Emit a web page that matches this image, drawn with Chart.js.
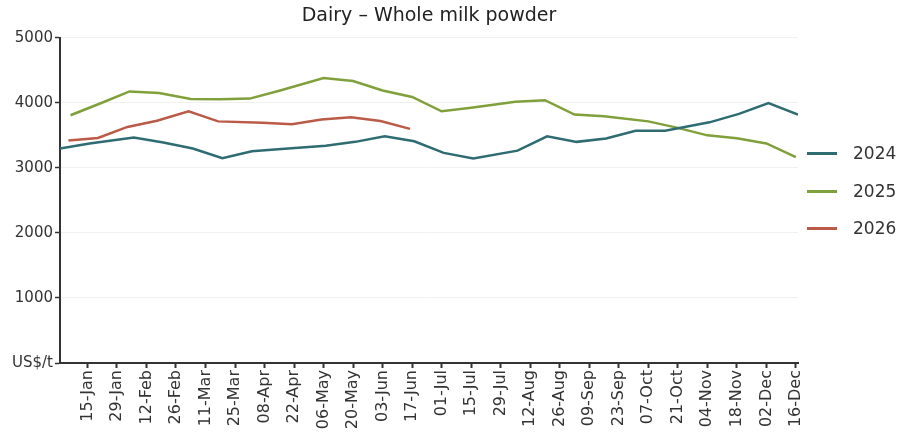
<!DOCTYPE html>
<html>
<head>
<meta charset="utf-8">
<script src="https://cdn.jsdelivr.net/npm/chart.js@4.4.1/dist/chart.umd.min.js"></script>
<style>
    body { margin: 0; background: #fff; }
    #wrap { position: relative; width: 899px; height: 435px; }
    #legend { position: absolute; left: 807px; top: 0; font-family: 'DejaVu Sans', sans-serif; font-size: 17px; color: #333; }
    .leg-item { position: absolute; left: 0; width: 92px; height: 20px; }
    .leg-line { position: absolute; left: 0; top: 9px; width: 30px; height: 3px; }
    .leg-text { position: absolute; left: 46px; top: 0; line-height: 20px; }
</style>
</head>
<body>
<div id="wrap">
    <canvas id="wmpChart"></canvas>
    <div id="legend"></div>
</div>
<script>
// x positions are day of year (common calendar), ticks every two weeks
const tickDays = [15, 29, 43, 57, 71, 85, 99, 113, 127, 141, 155, 169, 183, 197, 211, 225, 239, 253, 267, 281, 295, 309, 323, 337, 351];
const tickLabels = ['15-Jan', '29-Jan', '12-Feb', '26-Feb', '11-Mar', '25-Mar', '08-Apr', '22-Apr', '06-May', '20-May', '03-Jun', '17-Jun',
    '01-Jul', '15-Jul', '29-Jul', '12-Aug', '26-Aug', '09-Sep', '23-Sep', '07-Oct', '21-Oct', '04-Nov', '18-Nov', '02-Dec', '16-Dec'];

const days2024 = [2, 16, 37, 51, 65, 79, 93, 107, 128, 142, 156, 170, 184, 198, 219, 233, 247, 261, 275, 289, 310, 324, 338, 352];
const wmp2024 = [3297, 3375, 3466, 3390, 3297, 3148, 3255, 3290, 3340, 3400, 3486, 3409, 3231, 3143, 3265, 3486, 3400, 3451, 3570, 3570, 3700, 3830, 3995, 3820];

const days2025 = [7, 21, 35, 49, 64, 78, 92, 106, 127, 141, 155, 169, 183, 197, 218, 232, 246, 260, 281, 295, 309, 323, 337, 351];
const wmp2025 = [3809, 3990, 4175, 4150, 4060, 4055, 4065, 4185, 4380, 4335, 4190, 4090, 3870, 3925, 4015, 4040, 3820, 3795, 3715, 3615, 3500, 3455, 3375, 3165];

const days2026 = [6, 20, 34, 48, 63, 77, 98, 112, 126, 140, 154, 168];
const wmp2026 = [3420, 3460, 3630, 3725, 3870, 3715, 3695, 3670, 3745, 3780, 3720, 3600];

const seriesNames = ['2024', '2025', '2026'];
const seriesColors = ['#2e6c72', '#7fa03a', '#bb5a47'];

const FONT = "'DejaVu Sans', sans-serif";
const AXIS = '#333';

function toPoints(days, values) {
    return days.map((d, i) => ({ x: d, y: values[i] }));
}

const datasets = [
    toPoints(days2024, wmp2024),
    toPoints(days2025, wmp2025),
    toPoints(days2026, wmp2026)
].map((pts, i) => ({
    label: seriesNames[i],
    data: pts,
    borderColor: seriesColors[i],
    backgroundColor: seriesColors[i],
    borderWidth: 2.5,
    pointRadius: 0,
    tension: 0,
    fill: false
}));

const ctx = document.getElementById('wmpChart').getContext('2d');
const chart = new Chart(ctx, {
    type: 'line',
    data: { datasets },
    options: {
        responsive: true,
        maintainAspectRatio: false,
        animation: false,
        layout: { padding: { top: 5, right: 101, bottom: 0, left: 0 } },
        plugins: {
            legend: { display: false },
            tooltip: { enabled: false },
            title: {
                display: true,
                fullSize: false,
                text: 'Dairy – Whole milk powder',
                color: '#222',
                font: { family: FONT, size: 19, weight: 'normal' },
                padding: { top: 0, bottom: 10 }
            }
        },
        scales: {
            x: {
                type: 'linear',
                min: 2,
                max: 352,
                afterBuildTicks: axis => { axis.ticks = tickDays.map(v => ({ value: v })); },
                afterFit: axis => { axis.height = 72; },
                border: { color: AXIS, width: 2 },
                grid: { drawOnChartArea: false, tickLength: 5, tickColor: AXIS, tickWidth: 2 },
                ticks: {
                    autoSkip: false,
                    maxRotation: 90,
                    minRotation: 90,
                    padding: 2,
                    color: '#333',
                    font: { family: FONT, size: 16 },
                    callback: (value, index) => tickLabels[index]
                }
            },
            y: {
                min: 0,
                max: 5000,
                afterFit: axis => { axis.width = 60; },
                border: { color: AXIS, width: 2 },
                grid: { color: '#f0f0f0', lineWidth: 1, tickLength: 5, tickColor: AXIS, tickWidth: 1.5 },
                ticks: {
                    stepSize: 1000,
                    padding: 2,
                    color: '#333',
                    font: { family: FONT, size: 15 },
                    callback: value => value === 0 ? 'US$/t' : value
                }
            }
        }
    }
});

// legend on the right, built from the datasets
const legend = document.getElementById('legend');
chart.data.datasets.forEach((ds, i) => {
    const item = document.createElement('div');
    item.className = 'leg-item';
    item.style.top = (143 + i * 37.5) + 'px';
    item.innerHTML = `<div class="leg-line" style="background:${ds.borderColor}"></div><div class="leg-text">${ds.label}</div>`;
    legend.appendChild(item);
});
</script>
</body>
</html>
